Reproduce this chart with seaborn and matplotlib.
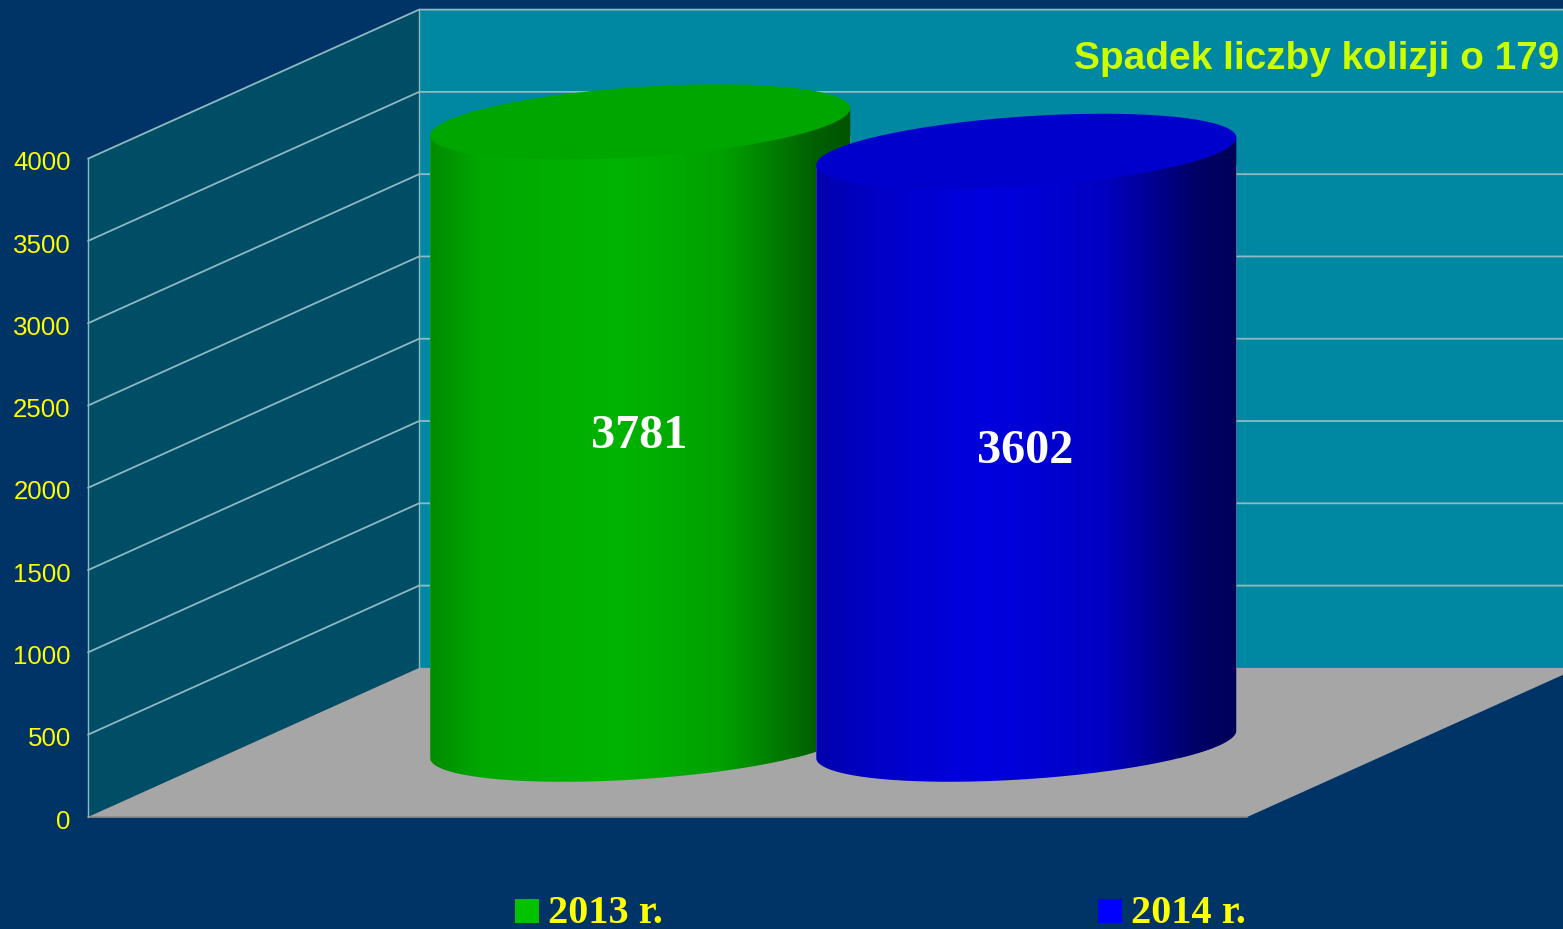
import numpy as np
import pandas as pd
import matplotlib
matplotlib.use("Agg")
import matplotlib.pyplot as plt
from matplotlib.colors import LinearSegmentedColormap
from matplotlib.patches import Patch, PathPatch, Polygon
from matplotlib.path import Path
import seaborn as sns

# Values
years = ["2013 r.", "2014 r."]
counts = [3781, 3602]
y_ticks = [0, 500, 1000, 1500, 2000, 2500, 3000, 3500, 4000]
note = "Spadek liczby kolizji o 179"

# Colours
BG = "#003366"
WALL = "#0087A1"
SIDE = "#004E66"
FLOOR = "#A6A6A6"
GRID = "#8FB9C2"
YELLOW = "#FFFF00"
legend_colors = ["#00C300", "#0000FF"]
top_colors = ["#00A600", "#0000CD"]
shades = [
    [(0, "#008C00"), (0.12, "#00A800"), (0.45, "#00B400"), (0.7, "#00A000"), (0.92, "#005F00"), (1, "#005400")],
    [(0, "#0000AE"), (0.15, "#0000C8"), (0.4, "#0000E0"), (0.68, "#0000C4"), (0.9, "#000068"), (1, "#000058")],
]

W, H = 1563, 929
PX_PER_UNIT = 658 / 4000   # height of one unit on the value axis
FRONT_Y, BACK_Y = 817, 668  # floor level, front and back
FRONT_X, BACK_X = 88, 419
BAR_STEP = 386             # pixels between bar centres
BAR_X0 = 640               # pixel of the first bar centre
BAR_BASE = 758             # pixel of the left foot of a bar
A, B, SLOPE = 210, 35, 0.0655  # ellipse shape of the cylinders

sns.set_style("white")
fig = plt.figure(figsize=((W + 0.4) / 100, (H + 0.4) / 100), dpi=100, facecolor=BG)

# back layer is drawn in pixels
bg = fig.add_axes([0, 0, 1, 1])
bg.set_xlim(0, W)
bg.set_ylim(H, 0)
bg.axis("off")

top = max(y_ticks)
bg.add_patch(Polygon([(BACK_X, BACK_Y), (W + 20, BACK_Y), (W + 20, BACK_Y - top * PX_PER_UNIT),
                      (BACK_X, BACK_Y - top * PX_PER_UNIT)], fc=WALL, ec="none"))
bg.add_patch(Polygon([(FRONT_X, FRONT_Y), (BACK_X, BACK_Y), (BACK_X, BACK_Y - top * PX_PER_UNIT),
                      (FRONT_X, FRONT_Y - top * PX_PER_UNIT)], fc=SIDE, ec="none"))
bg.add_patch(Polygon([(FRONT_X, FRONT_Y), (BACK_X, BACK_Y), (W + 15, BACK_Y), (1247, FRONT_Y)],
                     fc=FLOOR, ec="none"))
bg.plot([FRONT_X, 1247], [FRONT_Y, FRONT_Y], color="#8C8C8C", lw=1.2)

for t in y_ticks:
    dy = t * PX_PER_UNIT
    if t > 0:
        bg.plot([FRONT_X, BACK_X, W], [FRONT_Y - dy, BACK_Y - dy, BACK_Y - dy], color=GRID, lw=1.3)
    bg.text(70.7, FRONT_Y - dy + 4.2, str(t), color=YELLOW, fontsize=18.6, ha="right", va="center",
            family="Liberation Sans")
bg.plot([FRONT_X, FRONT_X], [FRONT_Y, FRONT_Y - top * PX_PER_UNIT], color=GRID, lw=1)
bg.plot([BACK_X, BACK_X], [BACK_Y, BACK_Y - top * PX_PER_UNIT], color=GRID, lw=1)

bg.text(1074, 69, note, color="#CCFF00", fontsize=27.9, fontweight="bold", family="Liberation Sans",
        ha="left", va="baseline")

# bars go on their own axes, value 0 sits on the foot of the bars
ax = fig.add_axes([0, 0, 1, 1])
ax.patch.set_alpha(0)
df = pd.DataFrame({"year": years, "count": counts})
sns.barplot(data=df, x="year", y="count", hue="year", palette=legend_colors, width=420 / BAR_STEP,
            dodge=False, legend=False, ax=ax)
xlim = (-BAR_X0 / BAR_STEP, (W - BAR_X0) / BAR_STEP)
ylim = ((BAR_BASE - H) / PX_PER_UNIT, BAR_BASE / PX_PER_UNIT)

bars = [c for cont in ax.containers for c in cont]
tt = np.linspace(0, 2 * np.pi, 361)
for i, bar in enumerate(bars):
    x0, w, h = bar.get_x(), bar.get_width(), bar.get_height()
    cx = x0 + w / 2
    ex = cx + A * np.cos(tt) / BAR_STEP
    # height above the foot of the bar, in value units
    ey = (SLOPE * A * (1 + np.cos(tt)) - B * np.sin(tt)) / PX_PER_UNIT

    # body: lower half of the foot ellipse, then up the left side and back down the right
    foot = np.column_stack([ex[tt <= np.pi], ey[tt <= np.pi]])
    outline = np.vstack([foot, [[x0, h]], [[x0 + w, h + 2 * SLOPE * A / PX_PER_UNIT]]])
    body = PathPatch(Path(outline, closed=False), transform=ax.transData, fc="none", ec="none")
    ax.add_patch(body)
    bar.set_clip_path(body)
    bar.set_zorder(2 + 2 * i)

    cmap = LinearSegmentedColormap.from_list(f"shade{i}", shades[i])
    im = ax.imshow(np.linspace(0, 1, 420).reshape(1, -1), cmap=cmap, aspect="auto",
                   extent=[x0, x0 + w, -600, h + 1000], zorder=2 + 2 * i, interpolation="bilinear")
    im.set_clip_path(body)

    ax.fill(ex, h + ey, color=top_colors[i], lw=0, zorder=3 + 2 * i)
    ax.text(cx - 1 / BAR_STEP, h / 2 + (SLOPE * A - 2.5) / PX_PER_UNIT, str(counts[i]), color="white",
            fontsize=34.7, fontweight="bold", family="Liberation Serif", ha="center", va="center", zorder=10)

ax.set_xlim(*xlim)
ax.set_ylim(*ylim)
ax.axis("off")

handles = [Patch(fc=c, ec="none") for c in legend_colors]
leg = ax.legend(handles, years, ncol=2, frameon=False, loc="lower left",
                bbox_to_anchor=(515 / W, 1 - 932 / H), bbox_transform=fig.transFigure,
                borderpad=0, borderaxespad=0, handlelength=0.596, handleheight=0.596,
                handletextpad=0.224, columnspacing=10.8,
                prop={"family": "Liberation Serif", "weight": "bold", "size": 29})
for txt in leg.get_texts():
    txt.set_color(YELLOW)
for p in leg.get_patches():
    p.set_y(p.get_y() - 1.3)
    p.set_height(17.3)

fig.savefig("out.png", dpi=100, facecolor=BG)
